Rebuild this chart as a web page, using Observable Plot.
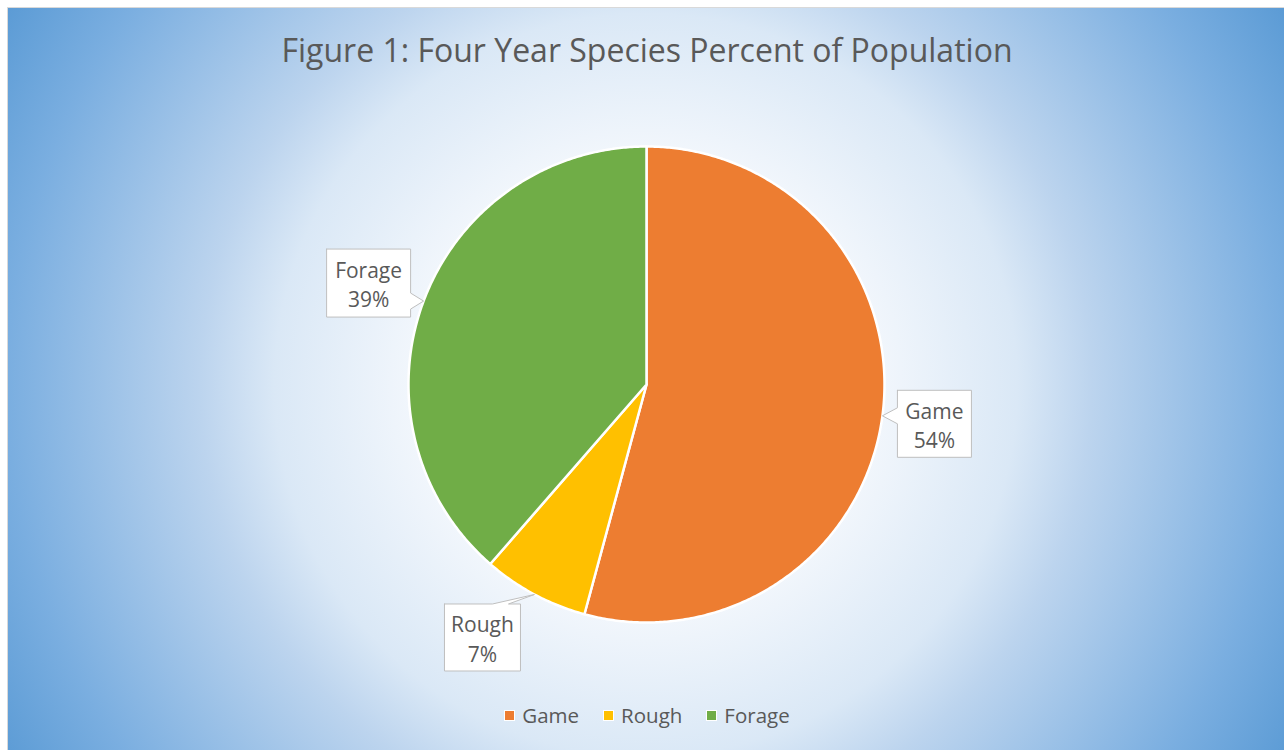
<!DOCTYPE html>
<html>
<head>
<meta charset="utf-8">
<script src="https://cdn.jsdelivr.net/npm/d3@7"></script>
<script src="https://cdn.jsdelivr.net/npm/@observablehq/plot@0.6"></script>
<style>
html, body { margin: 0; padding: 0; background: #ffffff; overflow: hidden; width: 1284px; height: 750px; }
#chart {
  position: absolute; left: 7px; top: 7px; width: 1280px; height: 746px; box-sizing: border-box;
  border: 1px solid #d9d9d9;
  background: radial-gradient(circle farthest-corner at 638px 377px,
    #ffffff 0%, #f6f9fd 28%, #dae8f6 50%, #bcd4ee 60%, #7aaee0 86%, #5b9bd5 100%);
  font-family: "Open Sans", sans-serif; color: #595959;
}
#title { height: 84px; line-height: 84px; text-align: center; font-size: 32px; white-space: nowrap; }
#plot { height: 600px; }
#legend { height: 46px; display: flex; justify-content: center; align-items: center; gap: 24px; font-size: 20.5px; }
#legend .item { display: flex; align-items: center; gap: 7px; }
#legend .sw { width: 9px; height: 9px; border: 1.5px solid #ffffff; }
</style>
</head>
<body>
<div id="chart">
  <div id="title">Figure 1: Four Year Species Percent of Population</div>
  <div id="plot"></div>
  <div id="legend"></div>
</div>
<script>
// ---- data ----
const categories = ["Game", "Rough", "Forage"];
const values = [54.2, 7.2, 38.6];

// ---- styles ----
const colors = ["#ED7D31", "#FFC000", "#70AD47"];
const R = 238;                      // pie radius in px
const labelStyle = {                // callout box: offset from tip (screen px), size, pointer side
  Game:   {dx: 52,  dy: 8,   w: 74, h: 67, side: "left"},
  Rough:  {dx: -52, dy: 43,  w: 76, h: 67, side: "top"},
  Forage: {dx: -55, dy: -18, w: 84, h: 68, side: "right"}
};

const total = d3.sum(values);
const arcs = d3.pie().sort(null).value(d => d)(values);

// slice polygons (y up, px units around the pie centre)
const slicePts = [];
arcs.forEach((a, i) => {
  const cat = categories[i];
  slicePts.push({cat, x: 0, y: 0});
  const n = Math.max(2, Math.ceil((a.endAngle - a.startAngle) / (Math.PI / 360)));
  for (let k = 0; k <= n; k++) {
    const t = a.startAngle + (a.endAngle - a.startAngle) * k / n;
    slicePts.push({cat, x: R * Math.sin(t), y: R * Math.cos(t)});
  }
  slicePts.push({cat, x: 0, y: 0});
});

// callouts (computed in screen coords with y down, then flipped)
const boxPts = [];
const labels = [];
arcs.forEach((a, i) => {
  const cat = categories[i];
  const st = labelStyle[cat];
  const m = (a.startAngle + a.endAngle) / 2;
  const tx = R * Math.sin(m), ty = -R * Math.cos(m);
  const cx = tx + st.dx, cy = ty + st.dy;
  const L = cx - st.w / 2, Rt = cx + st.w / 2, T = cy - st.h / 2, B = cy + st.h / 2;
  const hw = 8, mg = 14;
  const clamp = (v, lo, hi) => Math.max(lo, Math.min(hi, v));
  const bx = clamp(tx, L + mg, Rt - mg - 6), by = clamp(ty, T + mg, B - mg);
  const p = [[L, T]];
  if (st.side === "top") p.push([bx - hw, T], [tx, ty], [bx + hw, T]);
  p.push([Rt, T]);
  if (st.side === "right") p.push([Rt, by - hw], [tx, ty], [Rt, by + hw]);
  p.push([Rt, B]);
  if (st.side === "bottom") p.push([bx + hw, B], [tx, ty], [bx - hw, B]);
  p.push([L, B]);
  if (st.side === "left") p.push([L, by + hw], [tx, ty], [L, by - hw]);
  p.push([L, T]);
  p.forEach(([x, y]) => boxPts.push({cat, x, y: -y}));
  labels.push({cat, x: cx, y: -cy, text: `${cat}\n${Math.round(values[i] / total * 100)}%`});
});

const chart = Plot.plot({
  width: 1278,
  height: 600,
  margin: 0,
  style: {background: "transparent", overflow: "visible", fontFamily: "Open Sans, sans-serif"},
  x: {domain: [-638, 640], axis: null},
  y: {domain: [-308, 292], axis: null},
  color: {domain: categories, range: colors},
  marks: [
    Plot.line(slicePts, {x: "x", y: "y", z: "cat", fill: "cat", stroke: "#ffffff", strokeWidth: 2.5, strokeLinejoin: "round", curve: "linear"}),
    Plot.line(boxPts, {x: "x", y: "y", z: "cat", fill: "#ffffff", stroke: "#bfbfbf", strokeWidth: 1, strokeLinejoin: "miter", curve: "linear"}),
    Plot.text(labels, {x: "x", y: "y", text: "text", fill: "#595959", fontSize: 21, lineHeight: 1.4})
  ]
});
document.getElementById("plot").appendChild(chart);

// legend
const leg = document.getElementById("legend");
categories.forEach((c, i) => {
  const it = document.createElement("div");
  it.className = "item";
  const sw = document.createElement("span");
  sw.className = "sw";
  sw.style.background = colors[i];
  const tx = document.createElement("span");
  tx.textContent = c;
  it.appendChild(sw); it.appendChild(tx);
  leg.appendChild(it);
});
</script>
</body>
</html>
